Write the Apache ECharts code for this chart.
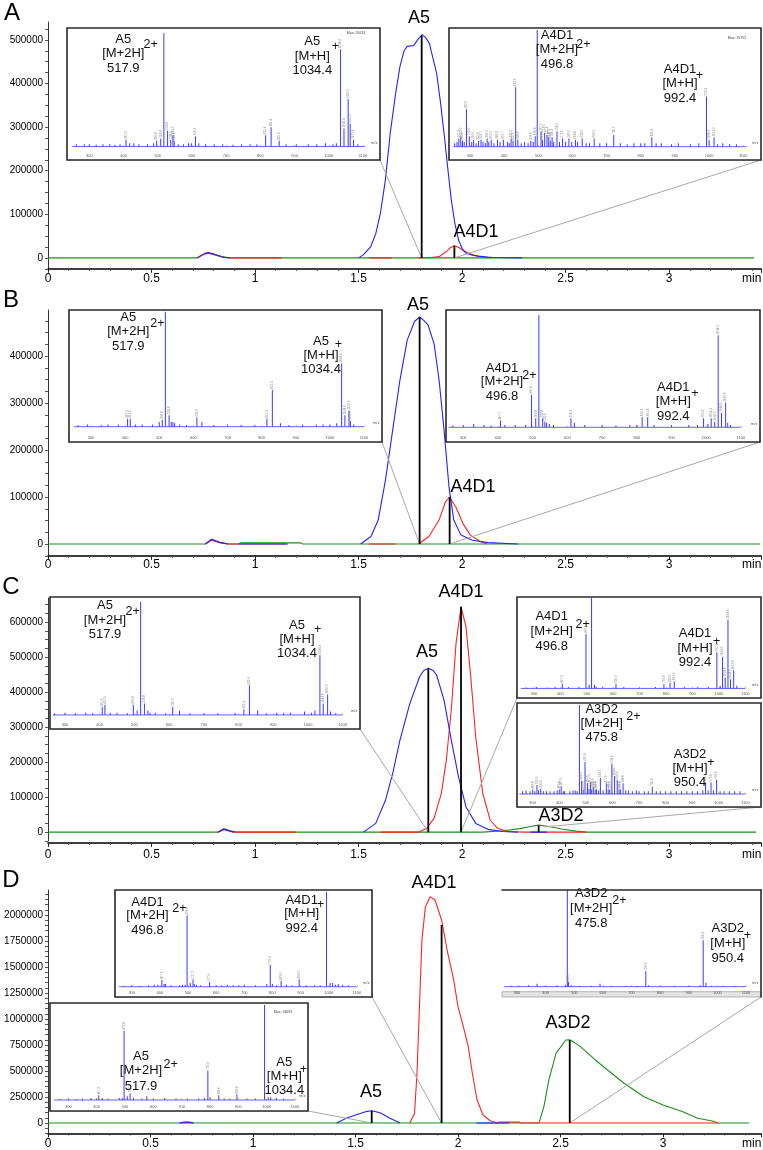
<!DOCTYPE html>
<html><head><meta charset="utf-8">
<script src="https://cdn.jsdelivr.net/npm/echarts@6/dist/echarts.min.js"></script>
<style>html,body{margin:0;padding:0;background:#fff}#c{width:763px;height:1150px}</style>
</head><body><div id="c"></div>
<script>
// ================= DATA =================
// Chromatogram traces: [time (min), intensity]
const A_green = [[0,0],[0.72,0],[0.75,8000],[0.77,11000],[0.80,9000],[0.84,3000],[0.88,0],[3.41,0]];
const A_red = [[0.72,0],[0.755,9000],[0.775,11000],[0.81,6000],[0.85,1000],[0.9,0],[1.13,0],[1.13,null],[1.55,0],[1.66,0],[1.66,null],
  [1.79,0],[1.85,1000],[1.89,3000],[1.922,14000],[1.945,24000],[1.963,28000],[1.985,24000],[2.005,17000],[2.03,11000],[2.053,7000],[2.08,3500],[2.10,1500],[2.14,0]];
const A_blue = [[0.72,0],[0.76,11000],[0.78,12000],[0.81,7000],[0.85,1000],[0.88,0],[0.88,null],
  [1.50,0],[1.523,7000],[1.559,26000],[1.583,55000],[1.606,103000],[1.63,180000],[1.653,286000],[1.68,380000],[1.70,439000],[1.72,475000],[1.735,485000],[1.767,487000],[1.785,500000],[1.807,512000],[1.825,505000],[1.842,492000],[1.877,424000],[1.895,360000],[1.913,286000],[1.93,210000],[1.948,133000],[1.965,80000],[1.983,41000],[2.0,22000],[2.018,11000],[2.05,6000],[2.08,4000],[2.125,2000],[2.15,1000],[2.29,0]];
const A_drops = [[1.805,510000],[1.963,28000]];
const A_names = ['A5','A4D1'];
const A_connTo = [[1.805,0],[1.963,0]];

const B_green = [[0,0],[0.76,0],[0.79,10000],[0.83,3000],[0.87,0],[0.92,0],[0.93,2500],[1.22,2500],[1.23,0],[3.44,0]];
const B_red = [[0.76,0],[0.79,8000],[0.83,3000],[0.87,0],[1.15,0],[1.15,null],[1.55,0],[1.68,0],[1.68,null],
  [1.79,0],[1.84,16000],[1.889,51000],[1.92,90000],[1.94,100000],[1.97,79000],[2.005,43000],[2.04,19000],[2.09,5000],[2.12,0]];
const B_blue = [[0.76,0],[0.79,10000],[0.83,4000],[0.87,0],[0.87,null],[0.92,0],[1.16,0],[1.16,null],
  [1.51,0],[1.56,16000],[1.595,51000],[1.63,136000],[1.665,243000],[1.70,349000],[1.735,434000],[1.771,474000],[1.795,483000],[1.815,476000],[1.836,466000],[1.865,426000],[1.889,349000],[1.913,243000],[1.937,121000],[1.96,51000],[1.995,19000],[2.05,8000],[2.125,3000],[2.27,0]];
const B_drops = [[1.795,483000],[1.94,100000]];
const B_names = ['A5','A4D1'];
const B_connTo = [[1.795,0],[1.94,0]];

const C_green = [[0,0],[0.82,0],[0.85,10000],[0.88,4000],[0.91,0],[2.1,0],[2.2,4000],[2.28,10000],[2.33,16000],[2.37,20000],[2.42,16000],[2.48,9000],[2.55,3000],[2.6,0],[3.42,0]];
const C_red = [[0.82,0],[0.85,7000],[0.88,2000],[0.9,0],[1.2,0],[1.2,null],
  [1.606,0],[1.79,0],[1.83,11000],[1.865,40000],[1.90,111000],[1.924,206000],[1.948,349000],[1.971,540000],[1.995,644000],[2.019,587000],[2.042,444000],[2.066,272000],[2.10,111000],[2.136,34000],[2.172,11000],[2.22,2000],[2.3,0],[2.6,0]];
const C_blue = [[0.82,0],[0.85,9000],[0.88,3000],[0.9,0],[0.9,null],
  [1.524,0],[1.583,25000],[1.63,91000],[1.665,168000],[1.70,263000],[1.748,368000],[1.795,444000],[1.815,462000],[1.837,468000],[1.86,462000],[1.877,449000],[1.913,377000],[1.948,263000],[1.983,158000],[2.019,72000],[2.066,25000],[2.125,8000],[2.195,2000],[2.27,0],[2.27,null],[2.33,0],[2.41,0]];
const C_drops = [[1.837,468000],[1.995,644000],[2.37,19000]];
const C_names = ['A5','A4D1','A3D2'];
const C_connTo = [[1.837,0],[1.995,0],[2.40,15000]];

const D_green = [[0,0],[2.19,0],[2.2,8000],[2.3,8000],[2.31,0],[2.395,0],[2.419,157000],[2.443,413000],[2.478,670000],[2.526,798000],[2.545,800000],[2.561,782000],[2.597,734000],[2.67,606000],[2.74,493000],[2.81,382000],[2.907,253000],[3.00,173000],[3.097,109000],[3.169,45000],[3.24,19000],[3.27,0],[3.42,0]];
const D_red = [[0.65,0],[0.68,6000],[0.71,0],[0.71,null],
  [1.765,0],[1.788,93000],[1.80,478000],[1.812,1118000],[1.824,1760000],[1.841,2080000],[1.864,2176000],[1.888,2144000],[1.92,1952000],[1.95,1632000],[1.979,1375000],[2.00,1118000],[2.026,926000],[2.05,734000],[2.07,478000],[2.093,221000],[2.122,77000],[2.157,22000],[2.193,0],[3.27,0]];
const D_blue = [[0.64,0],[0.66,8000],[0.69,9000],[0.71,0],[0.71,null],
  [1.408,0],[1.455,45000],[1.50,77000],[1.55,109000],[1.579,118000],[1.62,99000],[1.668,45000],[1.717,0],[1.717,null],[2.09,0],[2.25,0]];
const D_drops = [[1.579,118000],[1.92,1904000],[2.545,798000]];
const D_names = ['A5','A4D1','A3D2'];
const D_connTo = [[1.579,0],[1.92,0],[2.545,0]];

const panelLetters = ['A','B','C','D'];

// Inset mass spectra: [m/z, relative intensity %]
const specA_A5 = [[262,2],[285,2],[300,2],[320,1.5],[340,2],[360,2],[375,1.5],[390,2],[407.3,6],[418,3],[430,3],[445,2],[470,2],[488,3],[496.8,5],[508.8,7],[517.9,100],[528.8,14],[538.0,6],[544.5,10],[548,5],[560,2],[575,2],[590,3],[598,3],[610.3,9],[620,3],[640,2],[665,2],[690,2],[720,1.5],[745,2],[770,2],[790,2],[815.4,10],[831.4,17],[855,5],[875,2],[905,2],[940,2],[965,2],[990,3],[1012,2],[1022,3],[1034.4,86],[1044.4,16],[1056.6,42],[1062.5,20],[1072.4,6],[1085,2]];
const specA_A4D1 = [[255,3],[262,4],[267.3,7],[273,9],[278,5],[283,4],[289.6,32],[298,9],[305,4],[310.5,6],[318,3],[325,5],[332.1,6],[338,4],[345,3],[350.2,7],[355,4],[362.2,6],[370,3],[380.3,6],[388,4],[397.7,6],[410,4],[415,3],[420.3,7],[426,5],[433.6,51],[440,6],[450,3],[460,4],[470,3],[478,5],[485,4],[490.8,9],[496.8,100],[507.9,13],[512,6],[518.6,12],[525.4,10],[530.4,8],[535,5],[540.4,8],[545,4],[554.6,13],[562,4],[571.0,7],[580,4],[589.6,7],[598,4],[608.8,6],[615,4],[628.6,7],[640,3],[650,3],[663.6,7],[680,3],[700,3],[720.9,10],[740,3],[760,2],[780,3],[800,3],[812,3],[832.4,8],[845,3],[860,3],[890,2],[910,3],[945,2],[970,3],[992.4,43],[1000,6],[1014.6,8],[1025,2],[1040,3],[1060,2],[1080,2]];
const specB_A5 = [[262,1.5],[290,2],[330,1.5],[350,2],[380,2],[407.2,7],[415,7],[430,2],[450,2],[480,2],[500,4],[508.8,6],[517.9,100],[528.8,10],[535,4],[540,4],[545,3],[560,2],[580,1.5],[610.3,8],[625,4],[660,1.5],[700,2],[740,1.5],[780,1.5],[815.4,7],[831.4,32],[855,3],[880,1.5],[920,2],[960,2],[980,2],[1000,2],[1020,3],[1034.4,55],[1044,10],[1056,14],[1060,5],[1070,2]];
const specB_A4D1 = [[270,1.5],[300,2],[330,3],[360,2],[380,1.5],[407.2,6],[420,2],[450,2],[480,2],[496.8,29],[508.8,8],[517.9,100],[528.8,8],[535,5],[540,4],[548,3],[560,2],[610.3,8],[620,4],[650,2],[700,2],[740,1.5],[780,2],[800,2],[815.4,9],[831.4,9],[850,2],[900,2],[950,2],[975,2],[992.4,8],[1005,3],[1014.4,8],[1024.6,5],[1034.5,82],[1044,13],[1056,22],[1062,4],[1070,2]];
const specC_A5 = [[270,1.5],[300,2],[330,1.5],[360,2],[380,1.5],[407.3,7],[415,9],[430,2],[450,2],[480,1.5],[496.8,9],[508,4],[517.9,100],[528.8,10],[538.8,4],[545,2],[560,2],[590,1.5],[610.3,7],[630,4],[660,1.5],[700,1.5],[740,1.5],[790,2],[815.4,5],[831.4,26],[855,4],[880,1.5],[910,2],[930,2],[950,2],[990,3],[1010,2],[1020,4],[1034.4,53],[1044,10],[1056.6,18],[1065,3],[1080,1.5]];
const specC_A4D1 = [[270,1],[310,1.5],[350,1],[380,1.5],[407.3,5],[430,1.5],[470,1.5],[496.8,60],[508.8,4],[517.9,100],[528.8,4],[535,2],[560,1.5],[610.3,5],[640,1.5],[700,1],[760,1.5],[792,5],[815,6],[831,8],[870,1.5],[920,1.5],[960,1.5],[992.4,40],[1005,3],[1014,35],[1024,12],[1034.4,76],[1044,10],[1056,20],[1068,3]];
const specC_A3D2 = [[262,3],[275,4],[290,3],[300,5],[308,3],[316,10],[322,4],[330,6],[340,3],[352,3],[365,3],[380,3],[392,4],[400,5],[407,9],[415,3],[420,3],[440,3],[452,4],[460,4],[467,3],[475.8,100],[484,15],[490,5],[496.8,36],[506,12],[512,6],[517.9,13],[522,5],[528,8],[535,5],[540,5],[548,4],[554.6,18],[565,4],[577,12],[584,5],[590,5],[598,34],[608,20],[618,16],[625,5],[630,5],[640,12],[650,4],[660,4],[675,3],[690,4],[700,3],[720,3],[735,3],[750,8],[765,3],[780,3],[800,3],[820,3],[840,3],[860,3],[880,3],[900,3],[920,3],[940,4],[950.4,13],[960,4],[971,13],[980,4],[992,16],[1005,3],[1020,3],[1040,3],[1060,3],[1080,3]];
const specD_A4D1 = [[270,1],[300,1.5],[330,1],[360,1.5],[380,2],[393,2],[407.3,7],[415,3],[420,3],[440,1.5],[470,1.5],[480,2],[490,2],[496.8,75],[508,4],[517.9,8],[522,3],[530,2],[545,1.5],[577,5],[600,1.5],[620,1.5],[640,2],[660,1.5],[680,1.5],[700,2],[740,1.5],[780,3],[792.4,23],[800,3],[815,1.5],[831,6],[850,2],[870,1.5],[895,8],[920,1.5],[950,1.5],[970,1.5],[992.4,100],[1005,4],[1014,4],[1024,2],[1034,3],[1050,2],[1070,1.5]];
const specD_A3D2 = [[280,1],[310,1],[340,1.5],[370,3],[400,1],[440,1.5],[470,2],[475.8,100],[480,5],[490,1.5],[520,1],[560,1],[590,3],[630,1],[680,1],[720,1],[750,16],[760,1.5],[800,1],[850,1],[900,1],[940,1.5],[950.4,48],[960,4],[980,1],[1020,1],[1060,1]];
const specD_A5 = [[270,1],[300,1.5],[330,1],[350,1.5],[380,2],[400,1.5],[407.3,5],[420,2],[440,1.5],[480,2],[490,2],[496.8,73],[508,4],[517.9,7],[530,2],[560,1.5],[577,4],[600,1.5],[640,2],[680,1.5],[720,1.5],[760,1.5],[780,2],[792.4,31],[800,3],[831,5],[850,1.5],[870,1.5],[895,6],[930,1.5],[960,1.5],[992.4,100],[1005,3],[1014,3],[1034,2],[1060,1.5]];
const mzTicks = [300,400,500,600,700,800,900,1000,1100];

// Inset annotation texts: [line1, line2, line3, superscript]
const ann_A5 = [['A5','[M+2H]','517.9','2+'],['A5','[M+H]','1034.4','+']];
const ann_A4D1 = [['A4D1','[M+2H]','496.8','2+'],['A4D1','[M+H]','992.4','+']];
const ann_A3D2 = [['A3D2','[M+2H]','475.8','2+'],['A3D2','[M+H]','950.4','+']];

// ================= LAYOUT / STYLE =================
const FONT = '"Liberation Sans", Arial, Helvetica, sans-serif';
const BLUE = '#2323ff', RED = '#ff2222', GREEN = '#1c8f1c', SPEC = '#3a3aff';

const panels = [
  {green:A_green, red:A_red, blue:A_blue, drops:A_drops, names:A_names, connTo:A_connTo,
   grid:{left:48, top:22, width:713, height:246.8}, xMax:3.444, yMin:-25000, yMax:541000, yInt:25000, yStep:100000, xMargin:4, xOffset:0,
   labelPos:[[419,18],[476,232]], letterPos:[12,13.5]},
  {green:B_green, red:B_red, blue:B_blue, drops:B_drops, names:B_names, connTo:B_connTo,
   grid:{left:48, top:310, width:713, height:245.8}, xMax:3.444, yMin:-25000, yMax:498000, yInt:25000, yStep:100000, xMargin:3, xOffset:0,
   labelPos:[[418,305],[473,487]], letterPos:[11,300]},
  {green:C_green, red:C_red, blue:C_blue, drops:C_drops, names:C_names, connTo:C_connTo,
   grid:{left:48, top:598, width:713, height:242.9}, xMax:3.444, yMin:-25000, yMax:669000, yInt:25000, yStep:100000, xMargin:6, xOffset:2,
   labelPos:[[427,652],[461,592],[561,816]], letterPos:[11,587]},
  {green:D_green, red:D_red, blue:D_blue, drops:D_drops, names:D_names, connTo:D_connTo,
   grid:{left:48, top:890, width:713, height:243.4}, xMax:3.478, yMin:-100000, yMax:2240000, yInt:50000, yStep:250000, xMargin:4.5, xOffset:0,
   labelPos:[[371,1092],[434,883],[568,1023]], letterPos:[11,880]}
];

const insets = [
  {panel:0, conn:0, corner:'br', box:[67,28,380,160], x:[234.8,1149.7], y:[-11.9,104.7], strip:-4.9, base:[250,1105], spec:specA_A5, ann:ann_A5,
   annPos:[{x:123.3,ys:[39,53.3,68.3],s:[150.7,45]},{x:312.3,ys:[41.7,56,70.7],s:[335.3,46.7]}], maxTxt:'Max: 55033', maxPos:[356,33]},
  {panel:0, conn:1, corner:'br', box:[449,28,761,160], x:[238.5,1152], y:[-11.4,101.7], strip:-4.6, base:[252,1110], spec:specA_A4D1, ann:ann_A4D1,
   annPos:[{x:557,ys:[35,49.3,64.3],s:[583.3,45]},{x:680,ys:[69.3,83.3,98.3],s:[699.3,76]}], maxTxt:'Max: 15752', maxPos:[737,38]},
  {panel:1, conn:0, corner:'br', box:[69,310,382,442], x:[235.5,1152.7], y:[-13.3,101.5], strip:-4.9, base:[250,1100], spec:specB_A5, ann:ann_A5,
   annPos:[{x:128.3,ys:[317.3,331.7,346.7],s:[157.3,323.3]},{x:321,ys:[341.7,355,369.3],s:[338.3,344.3]}]},
  {panel:1, conn:1, corner:'br', box:[446,310,760,442], x:[250.3,1155], y:[-13.1,104.5], strip:-5.3, base:[258,1100], spec:specB_A4D1, ann:ann_A4D1,
   annPos:[{x:502,ys:[368.3,381.7,396.7],s:[529.3,376]},{x:673.3,ys:[387.3,401.7,416],s:[695,393.3]}]},
  {panel:2, conn:0, corner:'br', box:[50,597,360,729], x:[256.8,1149.9], y:[-12.4,104.1], strip:-5.9, base:[265,1100], spec:specC_A5, ann:ann_A5,
   annPos:[{x:105,ys:[605,620,634.3],s:[132.7,611.7]},{x:297,ys:[625,639.3,653.3],s:[317.7,629.3]}]},
  {panel:2, conn:1, corner:'bl', box:[517,597,761,698], x:[235.6,1159.5], y:[-10.6,101], strip:-3.7, base:[250,1100], spec:specC_A4D1, ann:ann_A4D1,
   annPos:[{x:551.7,ys:[616.7,631.7,646.7],s:[582.7,625]},{x:695,ys:[633.3,648.3,662.7],s:[716.7,641.7]}]},
  {panel:2, conn:2, corner:'br', box:[517,703,761,807], x:[240.9,1159], y:[-14.6,102.2], strip:-4.8, base:[250,1100], spec:specC_A3D2, ann:ann_A3D2,
   annPos:[{x:601.7,ys:[709.3,723.3,737.7],s:[633.3,716.7]},{x:690,ys:[754,768.3,782.7],s:[711,762.7]}]},
  {panel:3, conn:1, corner:'br', box:[115,890,372,997], x:[240.6,1154], y:[-10.8,101.8], strip:-2.6, base:[255,1100], spec:specD_A4D1, ann:ann_A4D1,
   annPos:[{x:147.5,ys:[902.7,915,930],s:[179.3,908.3]},{x:301.7,ys:[900,913.3,928.3],s:[320.7,905]}]},
  {panel:3, conn:2, corner:'br', box:[502,890,761,997], x:[247.6,1152.4], y:[-10.7,100], strip:-5.2, base:[255,1100], spec:specD_A3D2, ann:ann_A3D2, open:true,
   annPos:[{x:591.2,ys:[893.3,908.3,923.3],s:[619.5,900.7]},{x:727.8,ys:[928.3,943.3,958.3],s:[747.3,936]}]},
  {panel:3, conn:0, corner:'br', box:[50,1003,308,1111], x:[235.4,1145.7], y:[-11.6,102.1], strip:-4.2, base:[250,1100], spec:specD_A5, ann:ann_A5,
   annPos:[{x:141,ys:[1056.7,1070.7,1086],s:[170.7,1065]},{x:284.3,ys:[1062.7,1076.7,1090.7],s:[303.3,1070]}], maxTxt:'Max: 24693', maxPos:[283,1012]}
];

// ================= BUILD =================
const grids = [], xAxes = [], yAxes = [], series = [], graphics = [], extraX = [];

function txt(t, x, y, size, color) {
  graphics.push({type:'text', x:x, y:y, z:100, silent:true,
    style:{text:t, fill:color||'#000', fontSize:size, fontFamily:FONT,
      textAlign:'center', textVerticalAlign:'middle'}});
}

panels.forEach((p, i) => {
  const gi = grids.length;
  p.gi = gi;
  grids.push(Object.assign({containLabel:false, outerBoundsMode:'none'}, p.grid));
  xAxes.push({gridIndex:gi, type:'value', min:0, max:p.xMax, interval:0.5, offset:p.xOffset,
    axisLine:{show:true, onZero:false, lineStyle:{color:'#000', width:1.6}},
    axisTick:{show:true, length:4, lineStyle:{color:'#222'}},
    minorTick:{show:true, splitNumber:5, length:2, lineStyle:{color:'#444'}},
    splitLine:{show:false}, minorSplitLine:{show:false},
    axisLabel:{margin:p.xMargin, fontSize:12, color:'#000', fontFamily:FONT, showMaxLabel:false,
      formatter: v => (Math.abs(v*2 - Math.round(v*2)) < 1e-9) ? String(v) : ''},
    name:'min', nameLocation:'end', nameGap:-19,
    nameTextStyle:{fontSize:12, color:'#000', fontFamily:FONT, verticalAlign:'top', padding:[p.xMargin,0,0,0]}
  });
  yAxes.push({gridIndex:gi, type:'value', min:p.yMin, max:p.yMax, interval:p.yInt,
    axisLine:{show:true, onZero:false, lineStyle:{color:'#333', width:1}},
    axisTick:{show:true, length:3, lineStyle:{color:'#555'}},
    splitLine:{show:false},
    axisLabel:{margin:5, fontSize:10, color:'#000', fontFamily:FONT, showMaxLabel:false,
      formatter: v => (v >= 0 && Math.abs(v % p.yStep) < 1e-6) ? String(v) : ''}
  });
  const base = {xAxisIndex:gi, yAxisIndex:gi, type:'line', symbol:'none', showSymbol:false, animation:false, silent:true, connectNulls:false};
  series.push(Object.assign({}, base, {data:p.green, lineStyle:{color:GREEN, width:1.1}, z:2}));
  series.push(Object.assign({}, base, {data:p.red, lineStyle:{color:RED, width:1.1}, z:3}));
  series.push(Object.assign({}, base, {data:p.blue, lineStyle:{color:BLUE, width:1.1}, z:4}));
  series.push(Object.assign({}, base, {id:'conn'+i, data:[], clip:false, lineStyle:{color:'#a8a8a8', width:1}, z:5}));
  const dd = [];
  p.drops.forEach(d => { dd.push([d[0],0],[d[0],d[1]],[d[0],null]); });
  series.push(Object.assign({}, base, {data:dd, lineStyle:{color:'#000', width:1.8}, z:6}));
  p.names.forEach((n, k) => txt(n, p.labelPos[k][0], p.labelPos[k][1], 18, '#000'));
  txt(panelLetters[i], p.letterPos[0], p.letterPos[1], 24, '#000');
});

insets.forEach((s, j) => {
  const gi = grids.length;
  s.gi = gi;
  const [l,t,r,b] = s.box;
  grids.push({left:l, top:t, width:r-l, height:b-t, show:!s.open, borderColor:'#2a2a2a', borderWidth:1.6, backgroundColor:'#fff', z:10,
    containLabel:false, outerBoundsMode:'none'});
  xAxes.push({gridIndex:gi, type:'value', min:s.x[0], max:s.x[1], z:12,
    axisLine:{show:false},
    axisTick:{show:true, inside:true, length:1.5, customValues:mzTicks, lineStyle:{color:'#777', width:0.5}},
    axisLabel:{inside:true, margin:1.8, fontSize:4, color:'#555', fontFamily:FONT, customValues:mzTicks, formatter: v => String(v)},
    splitLine:{show:false},
    name:'m/z', nameLocation:'end', nameGap:-9,
    nameTextStyle:{fontSize:4, color:'#555', fontFamily:FONT, verticalAlign:'bottom', padding:[0,0,1.8,0]}
  });
  yAxes.push({gridIndex:gi, type:'value', min:s.y[0], max:s.y[1], show:!!s.open, position:'right', z:12,
    axisLine:{show:true, onZero:false, lineStyle:{color:'#2a2a2a', width:1.6}}, axisTick:{show:false}, axisLabel:{show:false}, splitLine:{show:false}});
  series.push({type:'line', xAxisIndex:gi, yAxisIndex:gi, data:[[s.base[0],0],[s.base[1],0]], symbol:'none', animation:false, silent:true,
    lineStyle:{color:SPEC, width:0.8}, z:11,
    markArea:{silent:true, itemStyle:{color:'#e4e4e4', borderColor:'#8a8a8a', borderWidth:0.6},
      data:[[{yAxis:s.y[0]},{yAxis:s.strip}]]}});
  series.push({type:'bar', xAxisIndex:gi, yAxisIndex:gi, data:s.spec, barWidth:1, animation:false, silent:true, z:11,
    itemStyle:{color:SPEC},
    label:{show:true, position:'top', rotate:90, align:'left', verticalAlign:'middle', distance:1, fontSize:3, color:'#888', fontFamily:FONT,
      formatter: q => (q.value[1] >= 5 && q.value[1] < 90) ? q.value[0].toFixed(1) : ''}});
  if (s.open) {
    extraX.push({gridIndex:gi, type:'value', min:s.x[0], max:s.x[1], position:'top', z:12,
      axisLine:{show:true, onZero:false, lineStyle:{color:'#2a2a2a', width:1.6}}, axisTick:{show:false}, axisLabel:{show:false}, splitLine:{show:false}});
  }
  s.ann.forEach((a, k) => {
    const pos = s.annPos[k];
    for (let m = 0; m < 3; m++) txt(a[m], pos.x, pos.ys[m], 13, '#111');
    txt(a[3], pos.s[0], pos.s[1], 12.5, '#111');
  });
  if (s.maxTxt) txt(s.maxTxt, s.maxPos[0], s.maxPos[1], 3.5, '#444');
});
extraX.forEach(a => xAxes.push(a));

const chart = echarts.init(document.getElementById('c'), null, {renderer:'canvas'});
chart.setOption({
  animation:false, backgroundColor:'#fff',
  grid:grids, xAxis:xAxes, yAxis:yAxes, series:series, graphic:{elements:graphics}
});

// connector lines: from inset frame corner (layout) to the peak base (data)
try {
  const connData = panels.map(() => []);
  insets.forEach(s => {
    const p = panels[s.panel];
    const [l,t,r,b] = s.box;
    const px = s.corner === 'bl' ? [l, b] : [r, b];
    const c = chart.convertFromPixel({gridIndex:p.gi}, px);
    const to = p.connTo[s.conn];
    connData[s.panel].push(c, to, [to[0], null]);
  });
  chart.setOption({series: panels.map((p, i) => ({id:'conn'+i, data:connData[i]}))});
} catch (e) { console.error(e); }
</script>
</body></html>
